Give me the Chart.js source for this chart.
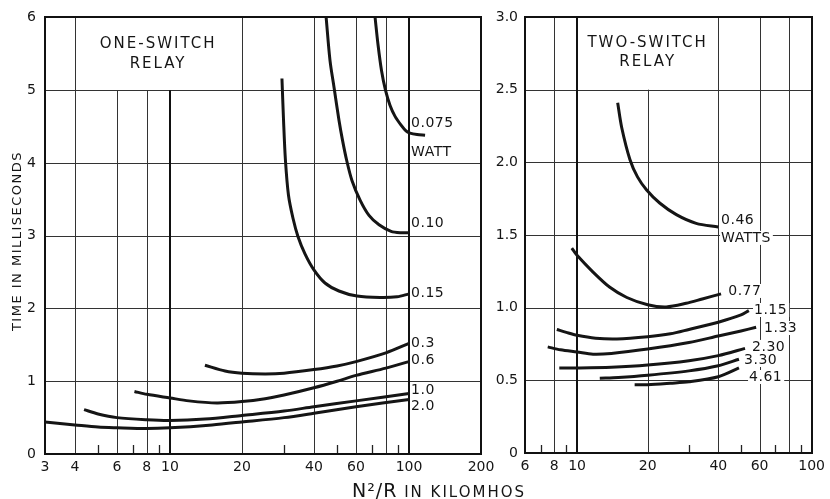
<!DOCTYPE html>
<html><head><meta charset="utf-8">
<script src="https://cdn.jsdelivr.net/npm/chart.js@4/dist/chart.umd.min.js"></script>
<style>
html,body{margin:0;padding:0;background:#fff;}
#wrap{position:relative;width:830px;height:499px;background:#fff;}
canvas{position:absolute;left:0;top:0;}
</style></head><body>
<div id="wrap"><canvas id="c1" width="830" height="499"></canvas><canvas id="c2" width="830" height="499"></canvas></div>
<script>
// ---------- tick labels ----------
const leftXTicks = [3, 4, 6, 8, 10, 20, 40, 60, 100, 200];
const leftYTicks = [0, 1, 2, 3, 4, 5, 6];
const rightXTicks = [6, 8, 10, 20, 40, 60, 100];
const rightYTicks = [0, 0.5, 1, 1.5, 2, 2.5, 3];

// ---------- one-switch relay (watts) ----------
const oneNames = ['0.075', '0.10', '0.15', '0.3', '0.6', '1.0', '2.0'];
const one075X = [72.1, 74.2, 76.7, 79.7, 83.3, 87.4, 92.6, 97.1, 101, 108, 116.7];
const one075Y = [6, 5.62, 5.27, 5.0, 4.79, 4.64, 4.52, 4.44, 4.41, 4.39, 4.38];
const one10X = [45, 46.7, 48.6, 50.9, 52.7, 54.8, 57.7, 62.4, 68, 74.9, 84.1, 93.5, 100];
const one10Y = [6, 5.41, 5.03, 4.59, 4.31, 4.04, 3.76, 3.49, 3.28, 3.15, 3.06, 3.04, 3.04];
const one15X = [29.4, 29.85, 30.4, 31.3, 32.7, 34.3, 36.7, 40, 44.5, 50.9, 60.6, 75.6, 89.1, 100];
const one15Y = [5.16, 4.59, 4.04, 3.56, 3.24, 2.99, 2.75, 2.53, 2.35, 2.24, 2.17, 2.15, 2.16, 2.20];
const one3X = [14, 17, 20, 25, 30, 40, 50, 60, 80, 100];
const one3Y = [1.22, 1.14, 1.11, 1.10, 1.11, 1.16, 1.21, 1.27, 1.39, 1.52];
const one6X = [7.1, 8, 10, 12, 15.7, 20, 25, 30, 40, 50, 60, 80, 100];
const one6Y = [0.86, 0.82, 0.77, 0.73, 0.70, 0.72, 0.76, 0.81, 0.91, 1.0, 1.08, 1.18, 1.27];
const one1X = [4.37, 5, 6, 8, 10, 14, 20, 30, 40, 60, 100];
const one1Y = [0.61, 0.55, 0.50, 0.47, 0.46, 0.48, 0.53, 0.59, 0.65, 0.73, 0.83];
const one2X = [3, 4, 5, 6, 8, 10, 15, 20, 30, 40, 60, 100];
const one2Y = [0.44, 0.40, 0.37, 0.36, 0.35, 0.36, 0.40, 0.44, 0.50, 0.56, 0.65, 0.75];

// ---------- two-switch relay (watts) ----------
const twoNames = ['0.46', '0.77', '1.15', '1.33', '2.30', '3.30', '4.61'];
const two46X = [14.9, 15.5, 16.8, 18.1, 19.8, 22.5, 26.5, 32.2, 40];
const two46Y = [2.41, 2.24, 2.02, 1.90, 1.81, 1.72, 1.64, 1.58, 1.555];
const two77X = [9.5, 10, 11.7, 13.8, 16.3, 20, 24, 29.2, 34.2, 41.1];
const two77Y = [1.41, 1.36, 1.245, 1.14, 1.07, 1.02, 1.005, 1.03, 1.06, 1.095];
const two115X = [8.2, 9, 10, 12, 14.8, 20, 25, 30, 40, 50, 54];
const two115Y = [0.85, 0.83, 0.81, 0.79, 0.785, 0.80, 0.82, 0.85, 0.90, 0.95, 0.98];
const two133X = [7.5, 8.5, 10, 11.7, 14, 20, 30, 40, 50, 58];
const two133Y = [0.73, 0.71, 0.695, 0.68, 0.685, 0.715, 0.76, 0.805, 0.84, 0.865];
const two230X = [8.4, 10, 14, 20, 30, 40, 52];
const two230Y = [0.585, 0.585, 0.59, 0.605, 0.635, 0.67, 0.72];
const two330X = [12.5, 15, 20, 30, 40, 49];
const two330Y = [0.515, 0.52, 0.535, 0.565, 0.60, 0.645];
const two461X = [17.6, 20, 25, 30, 40, 49];
const two461Y = [0.47, 0.47, 0.48, 0.49, 0.525, 0.585];

const FONT = "'DejaVu Sans', sans-serif";
const INK = '#151515';

function pts(xs, ys) { return xs.map((x, i) => ({ x, y: ys[i] })); }
function ds(name, xs, ys) {
  return {
    label: name, data: pts(xs, ys), showLine: true, borderColor: INK, borderWidth: 3,
    pointRadius: 0, fill: false, tension: 0.3, borderCapStyle: 'butt', borderJoinStyle: 'round'
  };
}

const paperPlugin = {
  id: 'paper',
  beforeDatasetsDraw(chart, args, o) {
    const { ctx, chartArea: a, scales: { x, y } } = chart;
    ctx.save();
    ctx.strokeStyle = '#333';
    o.hLines.forEach(v => {
      const py = Math.round(y.getPixelForValue(v)) + 0.5;
      ctx.lineWidth = 1;
      ctx.beginPath(); ctx.moveTo(a.left, py); ctx.lineTo(a.right, py); ctx.stroke();
    });
    o.vLines.forEach(g => {
      const w = g.w || 1;
      let px = x.getPixelForValue(g.v);
      px = w === 1 ? Math.round(px) + 0.5 : Math.round(px);
      const top = g.from != null ? y.getPixelForValue(g.from) : a.top;
      ctx.lineWidth = w;
      ctx.strokeStyle = w > 1 ? '#111' : '#333';
      ctx.beginPath(); ctx.moveTo(px, top); ctx.lineTo(px, a.bottom); ctx.stroke();
    });
    ctx.strokeStyle = '#222';
    ctx.lineWidth = 1.3;
    o.minor.forEach(v => {
      const px = Math.round(x.getPixelForValue(v)) + 0.5;
      ctx.beginPath(); ctx.moveTo(px, a.bottom - o.minorLen); ctx.lineTo(px, a.bottom); ctx.stroke();
    });
    // white backgrounds behind curve labels
    ctx.font = `14px ${FONT}`;
    ctx.letterSpacing = '0.5px';
    ctx.fillStyle = '#fff';
    o.labels.forEach(l => {
      const px = x.getPixelForValue(l.x), py = y.getPixelForValue(l.y);
      const w = ctx.measureText(l.text).width;
      ctx.fillRect(px - 1, py - 7, w + 3, 14);
    });
    ctx.restore();
  },
  afterDatasetsDraw(chart, args, o) {
    const { ctx, chartArea: a, scales: { x, y } } = chart;
    ctx.save();
    // frame
    ctx.strokeStyle = '#111';
    ctx.lineWidth = 2;
    ctx.strokeRect(Math.round(a.left), Math.round(a.top), Math.round(a.right - a.left), Math.round(a.bottom - a.top));
    // curve labels
    ctx.fillStyle = INK;
    ctx.font = `14px ${FONT}`;
    ctx.letterSpacing = '0.5px';
    ctx.textAlign = 'left';
    ctx.textBaseline = 'middle';
    o.labels.forEach(l => {
      ctx.fillText(l.text, x.getPixelForValue(l.x), y.getPixelForValue(l.y));
    });
    // panel titles
    ctx.font = `15px ${FONT}`;
    ctx.letterSpacing = '2px';
    ctx.textAlign = 'center';
    o.titles.forEach(t => {
      ctx.fillText(t.text, x.getPixelForValue(t.x) + 1, y.getPixelForValue(t.y));
    });
    // axis titles
    if (o.axisTitles) {
      ctx.letterSpacing = '1.5px';
      ctx.font = `13px ${FONT}`;
      ctx.save();
      ctx.translate(18, 241);
      ctx.rotate(-Math.PI / 2);
      ctx.textAlign = 'center';
      ctx.fillText('TIME IN MILLISECONDS', 0, 0);
      ctx.restore();
      // x title: N²/R (larger) + IN KILOMHOS
      const part1 = 'N²/R', part2 = ' IN KILOMHOS';
      ctx.letterSpacing = '1px';
      ctx.font = `19px ${FONT}`;
      const w1 = ctx.measureText(part1).width;
      ctx.letterSpacing = '2px';
      ctx.font = `15px ${FONT}`;
      const w2 = ctx.measureText(part2).width;
      const startX = 439 - (w1 + w2) / 2;
      ctx.textAlign = 'left';
      ctx.textBaseline = 'alphabetic';
      ctx.letterSpacing = '1px';
      ctx.font = `19px ${FONT}`;
      ctx.fillText(part1, startX, 497);
      ctx.letterSpacing = '2px';
      ctx.font = `15px ${FONT}`;
      ctx.fillText(part2, startX + w1, 497);
    }
    ctx.restore();
  }
};

function makeChart(id, cfg) {
  return new Chart(document.getElementById(id), {
    type: 'scatter',
    data: { datasets: cfg.datasets },
    options: {
      responsive: false, animation: false, devicePixelRatio: 1,
      layout: { padding: cfg.padding },
      plugins: { legend: { display: false }, tooltip: { enabled: false }, paper: cfg.paper },
      scales: {
        x: {
          type: 'logarithmic', min: cfg.xMin, max: cfg.xMax,
          afterBuildTicks: s => { s.ticks = cfg.xTicks.map(v => ({ value: v })); },
          afterFit: s => { s.height = cfg.xHeight; },
          grid: { display: false, drawTicks: false }, border: { display: false },
          ticks: { autoSkip: false, maxRotation: 0, padding: 5, color: INK,
                   font: { family: FONT, size: 14 }, callback: v => String(v) }
        },
        y: {
          type: 'linear', min: cfg.yMin, max: cfg.yMax,
          afterBuildTicks: s => { s.ticks = cfg.yTicks.map(v => ({ value: v })); },
          afterFit: s => { s.width = 45; },
          grid: { display: false, drawTicks: false }, border: { display: false },
          ticks: { autoSkip: false, padding: cfg.yPad, color: INK,
                   font: { family: FONT, size: 14 }, callback: cfg.yFmt }
        }
      }
    },
    plugins: [paperPlugin]
  });
}

makeChart('c1', {
  datasets: [
    ds(oneNames[0], one075X, one075Y), ds(oneNames[1], one10X, one10Y), ds(oneNames[2], one15X, one15Y),
    ds(oneNames[3], one3X, one3Y), ds(oneNames[4], one6X, one6Y), ds(oneNames[5], one1X, one1Y),
    ds(oneNames[6], one2X, one2Y)
  ],
  padding: { left: 0, right: 349, top: 17, bottom: 0 },
  xMin: 3, xMax: 200, yMin: 0, yMax: 6, xTicks: leftXTicks, yTicks: leftYTicks, xHeight: 45,
  yPad: 9, yFmt: v => String(v),
  paper: {
    hLines: [1, 2, 3, 4, 5],
    vLines: [{ v: 4 }, { v: 6, from: 5 }, { v: 8, from: 5 }, { v: 10, from: 5, w: 2 }, { v: 20 },
             { v: 40 }, { v: 60 }, { v: 80 }, { v: 100, w: 2 }],
    minor: [5, 7, 9, 30, 50, 70, 90], minorLen: 9,
    labels: [
      { text: oneNames[0], x: 102, y: 4.55 }, { text: 'WATT', x: 102, y: 4.15 },
      { text: oneNames[1], x: 102, y: 3.17 }, { text: oneNames[2], x: 102, y: 2.21 },
      { text: oneNames[3], x: 102, y: 1.52 }, { text: oneNames[4], x: 102, y: 1.29 },
      { text: oneNames[5], x: 102, y: 0.88 }, { text: oneNames[6], x: 102, y: 0.66 }
    ],
    titles: [{ text: 'ONE-SWITCH', x: 8.83, y: 5.63 }, { text: 'RELAY', x: 8.83, y: 5.36 }],
    axisTitles: true
  }
});

makeChart('c2', {
  datasets: [
    ds(twoNames[0], two46X, two46Y), ds(twoNames[1], two77X, two77Y), ds(twoNames[2], two115X, two115Y),
    ds(twoNames[3], two133X, two133Y), ds(twoNames[4], two230X, two230Y), ds(twoNames[5], two330X, two330Y),
    ds(twoNames[6], two461X, two461Y)
  ],
  padding: { left: 480, right: 17, top: 17, bottom: 0 },
  xMin: 6, xMax: 100, yMin: 0, yMax: 3, xTicks: rightXTicks, yTicks: rightYTicks, xHeight: 46,
  yPad: 7, yFmt: v => (v === 0 ? '0' : v.toFixed(1)),
  paper: {
    hLines: [0.5, 1, 1.5, 2, 2.5],
    vLines: [{ v: 8 }, { v: 10, w: 2 }, { v: 20, from: 2.5 }, { v: 40 }, { v: 60 }, { v: 80 }],
    minor: [7, 9, 30, 50, 70, 90], minorLen: 8,
    labels: [
      { text: twoNames[0], x: 41.1, y: 1.60 }, { text: 'WATTS', x: 41.1, y: 1.48 },
      { text: twoNames[1], x: 44.1, y: 1.115 }, { text: twoNames[2], x: 56.8, y: 0.984 },
      { text: twoNames[3], x: 62.7, y: 0.86 }, { text: twoNames[4], x: 55.7, y: 0.73 },
      { text: twoNames[5], x: 51.5, y: 0.64 }, { text: twoNames[6], x: 54.1, y: 0.523 }
    ],
    titles: [{ text: 'TWO-SWITCH', x: 19.8, y: 2.818 }, { text: 'RELAY', x: 19.8, y: 2.687 }],
    axisTitles: false
  }
});
</script>
</body></html>
